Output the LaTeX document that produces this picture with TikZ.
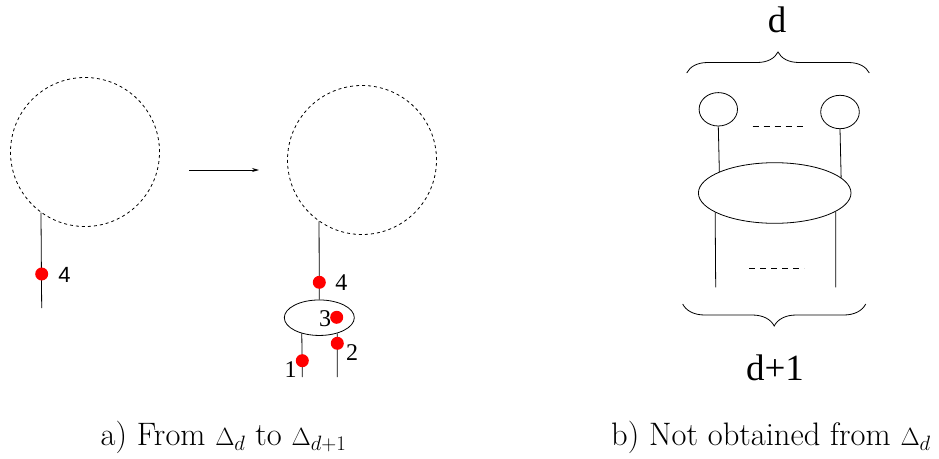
\documentclass[tikz,border=0pt]{standalone}
\usepackage{fontspec}
\usetikzlibrary{arrows.meta,decorations.pathreplacing,shapes.geometric}
\newfontfamily\labfont{Liberation Serif}
\newfontfamily\labsans{Liberation Sans}
\begin{document}
\begin{tikzpicture}[x=1pt,y=-1pt,line width=0.8pt,
  dcirc/.style={draw,dash pattern=on 3pt off 3pt,circle,minimum size=149pt,inner sep=0pt},
  reddot/.style={circle,fill=red,minimum size=13pt,inner sep=0pt},
  num/.style={font=\labfont\fontsize{24}{24}\selectfont,inner sep=0pt},
  numsans/.style={font=\labsans\fontsize{22}{22}\selectfont,inner sep=0pt},
  big/.style={font=\labfont\fontsize{37}{37}\selectfont,inner sep=0pt},
  captext/.style={font=\fontsize{32.5}{33}\selectfont,inner sep=0pt},
  oval/.style={draw,ellipse,inner sep=0pt},
  dots/.style={dash pattern=on 6pt off 5pt},
  brc/.style={decorate,decoration={brace,amplitude=#1}}]
\useasboundingbox (0,0) rectangle (939,458);
% left: before
\node[dcirc] (c1) at (85,152) {};
\coordinate (e1) at (41.7,308);
\draw (c1.234.5) -- (e1);
\node[reddot] (d4a) at (41.7,274) {};
\node[numsans,anchor=west] (l4a) at (58,275) {4};
% arrow
\coordinate (a0) at (189,170);
\coordinate (a1) at (259,170);
\draw[-{Stealth[length=7pt,width=4pt]}] (a0) -- (a1);
% right: after
\node[dcirc] (c2) at (362,160) {};
\node[oval,minimum width=70pt,minimum height=35.5pt] (el) at (319.3,317.7) {};
\draw (c2.235) -- (el.north);
\coordinate (g1) at (302.3,377);
\coordinate (g2) at (337.3,377);
\draw (el.222.4) -- (g1);
\draw (el.319.8) -- (g2);
\node[reddot] (d4b) at (319.3,282.3) {};
\node[num,anchor=west] (l4b) at (335,283) {4};
\node[reddot] (d3) at (336.7,317.3) {};
\node[num] (l3) at (325,319) {3};
\node[reddot] (d1) at (302.3,360.7) {};
\node[num] (l1) at (290.7,369.5) {1};
\node[reddot] (d2) at (337.3,343.3) {};
\node[num] (l2) at (352,353) {2};
% b) figure
\node[big] (dtop) at (777,20) {d};
\coordinate (bt0) at (686.7,73);
\coordinate (bt1) at (869.3,73);
\draw[brc=21pt] (bt0) -- (bt1);
\node[oval,minimum width=38.4pt,minimum height=33.4pt] (sc1) at (718.3,109.3) {};
\node[oval,minimum width=38.6pt,minimum height=33.4pt] (sc2) at (840,112) {};
\coordinate (u0) at (752.7,126.7);
\coordinate (u1) at (807.3,126.7);
\draw[dots] (u0) -- (u1);
\node[oval,minimum width=152.6pt,minimum height=60.6pt] (be) at (774.7,193) {};
\draw (sc1.south) -- (be.159.6);
\draw (sc2.south) -- (be.13);
\coordinate (h1) at (715.7,287.3);
\coordinate (h2) at (835.7,287.3);
\draw (be.198) -- (h1);
\draw (be.343.4) -- (h2);
\coordinate (w0) at (749,268.3);
\coordinate (w1) at (804,268.3);
\draw[dots] (w0) -- (w1);
\coordinate (bb0) at (865.7,304);
\coordinate (bb1) at (682.7,304);
\draw[brc=22pt] (bb0) -- (bb1);
\node[big] (dbot) at (775,368) {d+1};
% captions
\node[captext] (capa) at (223.5,437) {a) From $\Delta_d$ to $\Delta_{d+1}$};
\node[captext] (capb) at (771,437) {b) Not obtained from $\Delta_d$};
\end{tikzpicture}
\end{document}
